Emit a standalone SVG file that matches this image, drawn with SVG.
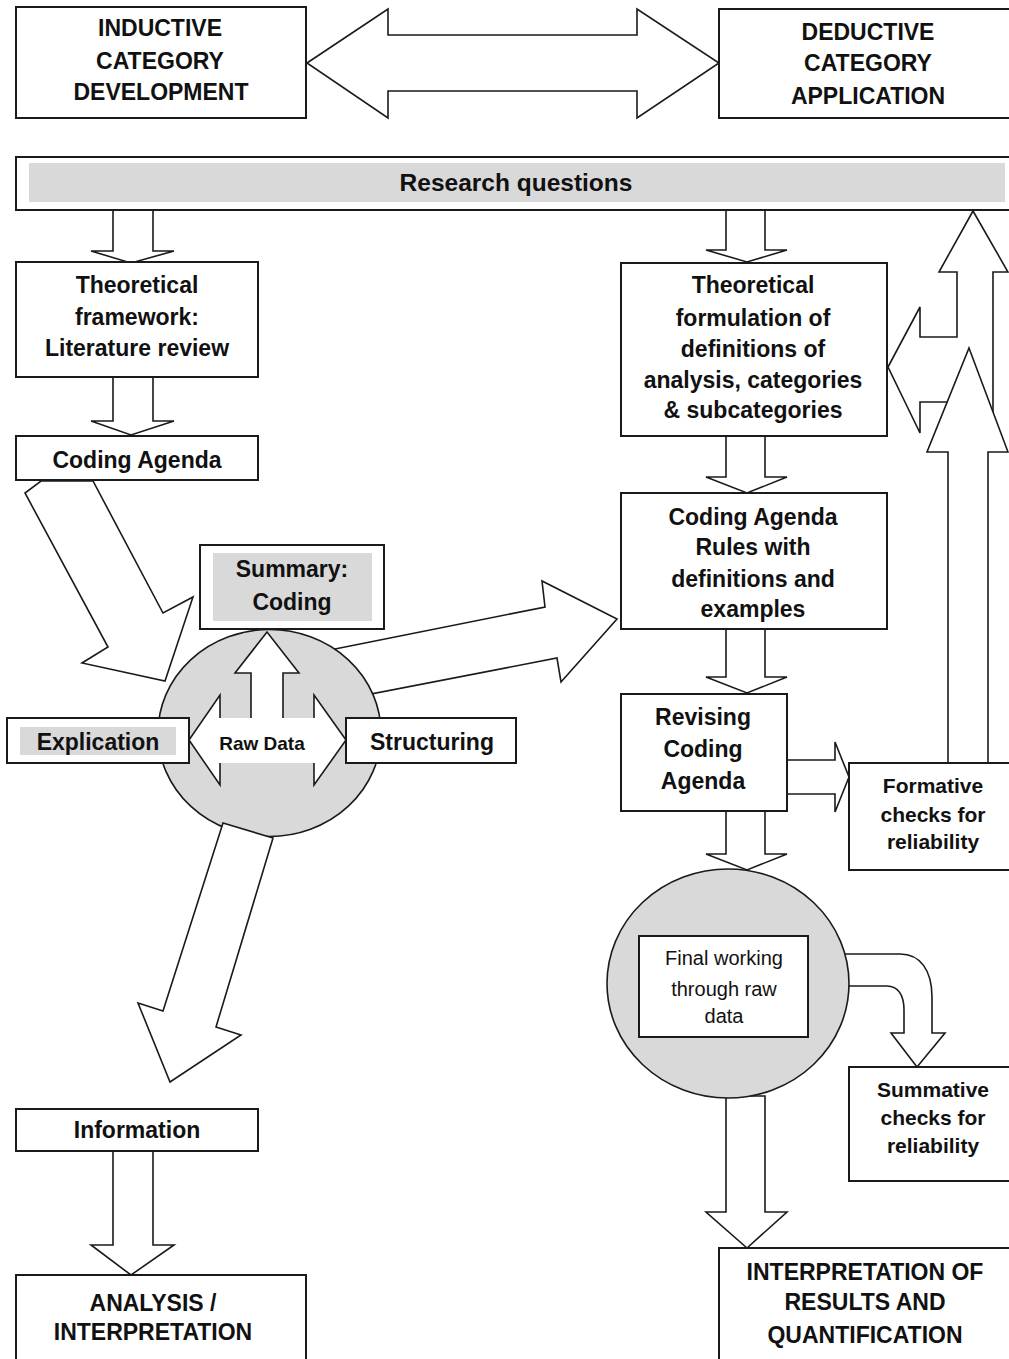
<svg xmlns="http://www.w3.org/2000/svg" width="1009" height="1359" viewBox="0 0 1009 1359">
<style>
.box{fill:#fff;stroke:#1a1a1a;stroke-width:2}
.arr{fill:#fff;stroke:#1a1a1a;stroke-width:1.6;stroke-linejoin:miter}
.grey{fill:#d9d9d9}
.circ{fill:#d9d9d9;stroke:#1a1a1a;stroke-width:1.6}
.t{font-family:"Liberation Sans",Arial,sans-serif;font-weight:bold;font-size:23px;fill:#111;text-anchor:middle}
.s21{font-size:21px}
.reg{font-weight:normal;font-size:20px}
.raw{font-size:19px}
.rq{font-size:24.5px}
</style>
<rect width="1009" height="1359" fill="#fff"/>

<g id="connectors">
  <polygon class="arr" points="307,63 388,9 388,35 637,35 637,9 719,63 637,118 637,91 388,91 388,118"/>
  <polygon class="arr" points="113,210 153,210 153,251 174,251 131,263 91,251 113,251"/>
  <polygon class="arr" points="113,377 153,377 153,421 174,421 131,435 91,421 113,421"/>
  <polygon class="arr" points="41,481 93,481 163,613 193,597 165,681 82,663 108,647 25,493"/>
  <polygon class="arr" points="320,652 545,607 542,581 617,619 561,682 557,658 350,698"/>
  <polygon class="arr" points="113,1151 153,1151 153,1245 174,1245 131,1275 91,1245 113,1245"/>
  <polygon class="arr" points="726,210 765,210 765,250 787,250 747,262 706,250 726,250"/>
  <polygon class="arr" points="726,436 765,436 765,477 787,477 747,493 706,477 726,477"/>
  <polygon class="arr" points="726,629 765,629 765,677 787,677 747,693 706,677 726,677"/>
  <polygon class="arr" points="787,760 835,760 835,742 849,777 835,812 835,794 787,794"/>
  <polygon class="arr" points="726,811 765,811 765,854 787,854 747,870 706,854 726,854"/>
  <polygon class="arr" points="726,1096 765,1096 765,1212 787,1212 747,1248 706,1212 726,1212"/>
  <path class="arr" d="M835,954 L900,954 C920,954 932,970 932,997 L932,1033 L945,1033 L917,1067 L891,1033 L904,1033 L904,1010 C904,995 898,986 887,986 L835,986 Z"/>
  <polygon class="arr" points="888,367 920,307 920,337 957,337 957,272 939,272 973,211 1008,272 993,272 993,412 947,402 920,402 920,433"/>
  <polygon class="arr" points="969,348 1008,452 988,452 988,763 948,763 948,452 927,452"/>
</g>

<g id="n-inductive">
  <rect class="box" x="16" y="7" width="290" height="111"/>
  <text class="t" x="160" y="36">INDUCTIVE</text>
  <text class="t" x="160" y="69">CATEGORY</text>
  <text class="t" x="161" y="100">DEVELOPMENT</text>
</g>
<g id="n-deductive">
  <rect class="box" x="719" y="9" width="300" height="109"/>
  <text class="t" x="868" y="40">DEDUCTIVE</text>
  <text class="t" x="868" y="71">CATEGORY</text>
  <text class="t" x="868" y="104">APPLICATION</text>
</g>
<g id="n-research">
  <rect class="box" x="16" y="157" width="1003" height="53"/>
  <rect class="grey" x="29" y="163" width="976" height="39"/>
  <text class="t rq" x="516" y="191">Research questions</text>
</g>
<g id="n-theory-framework">
  <rect class="box" x="16" y="262" width="242" height="115"/>
  <text class="t" x="137" y="293">Theoretical</text>
  <text class="t" x="137" y="325">framework:</text>
  <text class="t" x="137" y="356">Literature review</text>
</g>
<g id="n-coding-agenda">
  <rect class="box" x="16" y="436" width="242" height="44"/>
  <text class="t" x="137" y="468">Coding Agenda</text>
</g>
<g id="n-theory-formulation">
  <rect class="box" x="621" y="263" width="266" height="173"/>
  <text class="t" x="753" y="293">Theoretical</text>
  <text class="t" x="753" y="326">formulation of</text>
  <text class="t" x="753" y="357">definitions of</text>
  <text class="t" x="753" y="388">analysis, categories</text>
  <text class="t" x="753" y="418">&amp; subcategories</text>
</g>
<g id="n-coding-rules">
  <rect class="box" x="621" y="493" width="266" height="136"/>
  <text class="t" x="753" y="525">Coding Agenda</text>
  <text class="t" x="753" y="555">Rules with</text>
  <text class="t" x="753" y="587">definitions and</text>
  <text class="t" x="753" y="617">examples</text>
</g>
<g id="n-revising">
  <rect class="box" x="621" y="694" width="166" height="117"/>
  <text class="t" x="703" y="725">Revising</text>
  <text class="t" x="703" y="757">Coding</text>
  <text class="t" x="703" y="789">Agenda</text>
</g>
<g id="n-formative">
  <rect class="box" x="849" y="763" width="170" height="107"/>
  <text class="t s21" x="933" y="793">Formative</text>
  <text class="t s21" x="933" y="822">checks for</text>
  <text class="t s21" x="933" y="849">reliability</text>
</g>

<g id="n-raw-data">
  <ellipse class="circ" cx="269.5" cy="733" rx="111.5" ry="103.5"/>
  <path d="M189,740 L220,695 L220,718 L251,718 L251,673 L235,673 L267,632 L299,673 L283,673 L283,718 L314,718 L314,695 L346,740 L314,785 L314,763 L220,763 L220,785 Z" fill="#fff"/>
  <path class="arr" style="fill:none" d="M220,718 L220,695 L189,740 L220,785 L220,763 M251,718 L251,673 L235,673 L267,632 L299,673 L283,673 L283,718 M314,718 L314,695 L346,740 L314,785 L314,763"/>
  <text class="t raw" x="262" y="750">Raw Data</text>
</g>
<g id="n-summary">
  <rect class="box" x="200" y="545" width="184" height="84"/>
  <rect class="grey" x="213" y="553" width="159" height="68"/>
  <text class="t" x="292" y="577">Summary:</text>
  <text class="t" x="292" y="610">Coding</text>
</g>
<g id="n-explication">
  <rect class="box" x="7" y="718" width="182" height="45"/>
  <rect class="grey" x="20" y="727" width="156" height="28"/>
  <text class="t" x="98" y="750">Explication</text>
</g>
<g id="n-structuring">
  <rect class="box" x="346" y="718" width="170" height="45"/>
  <text class="t" x="432" y="750">Structuring</text>
</g>
<g id="c-raw-to-info">
  <polygon class="arr" points="223,823 273,838 216,1027 241,1035 170,1082 138,1003 163,1011"/>
</g>
<g id="n-information">
  <rect class="box" x="16" y="1109" width="242" height="42"/>
  <text class="t" x="137" y="1138">Information</text>
</g>
<g id="n-analysis">
  <rect class="box" x="16" y="1275" width="290" height="95"/>
  <text class="t" x="153" y="1311">ANALYSIS /</text>
  <text class="t" x="153" y="1340">INTERPRETATION</text>
</g>

<g id="n-final">
  <ellipse class="circ" cx="728" cy="983.5" rx="121" ry="114.5"/>
  <rect class="box" x="639" y="936" width="169" height="101"/>
  <text class="t reg" x="724" y="965">Final working</text>
  <text class="t reg" x="724" y="996">through raw</text>
  <text class="t reg" x="724" y="1023">data</text>
</g>
<g id="n-summative">
  <rect class="box" x="849" y="1067" width="170" height="114"/>
  <text class="t s21" x="933" y="1097">Summative</text>
  <text class="t s21" x="933" y="1125">checks for</text>
  <text class="t s21" x="933" y="1153">reliability</text>
</g>
<g id="n-interpretation">
  <rect class="box" x="719" y="1248" width="300" height="130"/>
  <text class="t" x="865" y="1280">INTERPRETATION OF</text>
  <text class="t" x="865" y="1310">RESULTS AND</text>
  <text class="t" x="865" y="1343">QUANTIFICATION</text>
</g>
</svg>
